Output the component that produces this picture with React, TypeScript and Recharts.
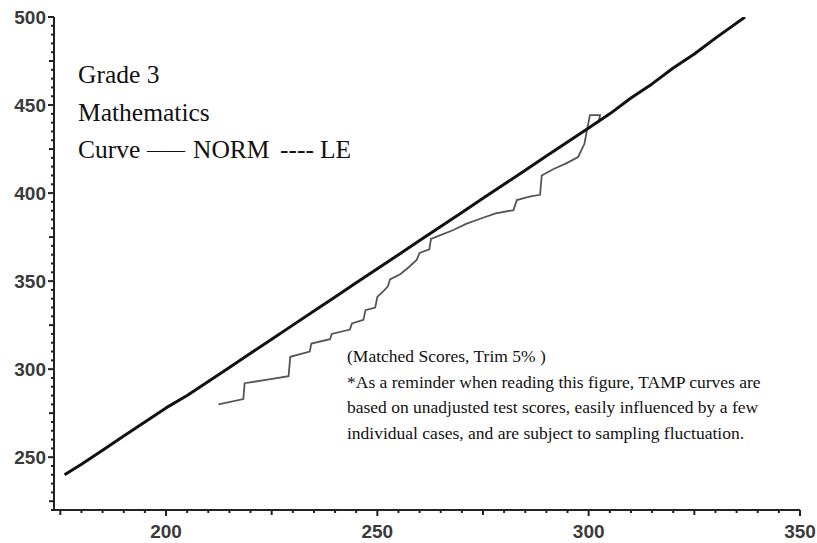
import { LineChart, Line, XAxis, YAxis } from "recharts";

// ── NORM curve (solid, heavy) ───────────────────────────────────────
const normX = [
  176, 180, 185, 190, 195, 200, 205, 210, 215, 220, 225, 230, 235, 240, 245,
  250, 255, 260, 265, 270, 275, 280, 285, 290, 295, 300, 305, 310, 315, 320,
  325, 330, 337,
];
const normY = [
  240, 246, 254, 262, 270, 278, 285, 293, 301, 309, 317, 325, 333, 341, 349,
  357, 365, 373, 381, 389, 397, 405, 413, 421, 429, 437, 445, 454, 462, 471,
  479, 488, 500,
];

// ── LE curve (stepped, thin grey) ───────────────────────────────────
const leX = [
  212.4, 218.3, 218.6, 224, 229, 229.4, 234, 234.4, 238.8, 239.2, 243.5, 244,
  246.7, 247.2, 249.5, 250, 251.5, 252.5, 253, 255.5, 257.5, 259.3, 260, 262.3,
  262.7, 264.8, 268, 271, 275, 278, 282.2, 283, 286, 288.5, 288.9, 291.6, 294.8,
  297.5, 299, 299.5, 300.3, 302.7, 302.3,
];
const leY = [
  280, 283, 292, 294, 296, 307, 310, 314.5, 317, 320, 322.5, 326, 328, 333.5,
  335, 341, 344.5, 347, 351, 354, 358, 362, 366, 368, 374, 376, 379, 382.5, 386,
  388.5, 390.3, 396, 398, 399, 410, 413.5, 417, 420.5, 428, 434.5, 444.3, 444.3,
  440,
];

// ── Axes ────────────────────────────────────────────────────────────
const xLabels = [200, 250, 300, 350];
const yLabels = [250, 300, 350, 400, 450, 500];
const X_DOMAIN: [number, number] = [173.5, 350];
const Y_DOMAIN: [number, number] = [220, 500];
const MINOR_STEP = 5;

const header = ["Grade 3", "Mathematics"];
const note = [
  "(Matched Scores, Trim 5% )",
  "*As a reminder when reading this figure, TAMP curves are",
  "based on unadjusted test scores, easily influenced by a few",
  "individual cases, and are subject to sampling fluctuation.",
];

const normData = normX.map((x, i) => ({ x, y: normY[i] }));
const leData = leX.map((x, i) => ({ x, y: leY[i] }));

function minorTicks(lo: number, hi: number) {
  const out: number[] = [];
  for (let v = Math.ceil(lo / MINOR_STEP) * MINOR_STEP; v <= hi; v += MINOR_STEP) out.push(v);
  return out;
}

const AXIS_COLOR = "#222";
const TICK_FONT = "'Liberation Sans', Arial, sans-serif";
const SERIF = "'Liberation Serif', 'Times New Roman', serif";

const tickLen = (v: number) => (v % 50 === 0 ? 6 : v % 25 === 0 ? 5 : 3);

function XTick(props: any) {
  const { x, y, payload } = props;
  const v = payload.value as number;
  return (
    <g>
      <line x1={x} x2={x} y1={y} y2={y + tickLen(v)} stroke={AXIS_COLOR} strokeWidth={2} />
      {xLabels.includes(v) && (
        <text
          x={x}
          y={y + 21}
          textAnchor="middle"
          dominantBaseline="central"
          fontFamily={TICK_FONT}
          fontWeight="bold"
          fontSize={19}
          fill="#3a3a3a"
        >
          {v}
        </text>
      )}
    </g>
  );
}

function YTick(props: any) {
  const { x, y, payload } = props;
  const v = payload.value as number;
  return (
    <g>
      <line x1={x} x2={x - tickLen(v)} y1={y} y2={y} stroke={AXIS_COLOR} strokeWidth={2} />
      {yLabels.includes(v) && (
        <text
          x={x - 8}
          y={y}
          textAnchor="end"
          dominantBaseline="central"
          fontFamily={TICK_FONT}
          fontWeight="bold"
          fontSize={19}
          fill="#3a3a3a"
        >
          {v}
        </text>
      )}
    </g>
  );
}

export default function App() {
  return (
    <div style={{ position: "absolute", left: 0, top: 0, width: 817, height: 543, background: "#fff" }}>
      <LineChart width={817} height={543} margin={{ top: 17, right: 17, bottom: 0, left: 0 }}>
        <XAxis
          dataKey="x"
          type="number"
          domain={X_DOMAIN}
          allowDataOverflow
          ticks={minorTicks(X_DOMAIN[0], X_DOMAIN[1])}
          interval={0}
          height={33}
          tickSize={0}
          tickMargin={0}
          tickLine={false}
          axisLine={{ stroke: AXIS_COLOR, strokeWidth: 2 }}
          tick={<XTick />}
        />
        <YAxis
          dataKey="y"
          type="number"
          domain={Y_DOMAIN}
          allowDataOverflow
          ticks={minorTicks(Y_DOMAIN[0], Y_DOMAIN[1])}
          interval={0}
          width={54}
          tickSize={0}
          tickMargin={0}
          tickLine={false}
          axisLine={{ stroke: AXIS_COLOR, strokeWidth: 2 }}
          tick={<YTick />}
        />
        <Line
          data={leData}
          dataKey="y"
          type="linear"
          stroke="#555"
          strokeWidth={1.8}
          dot={false}
          isAnimationActive={false}
        />
        <Line
          data={normData}
          dataKey="y"
          type="linear"
          stroke="#111"
          strokeWidth={3}
          strokeLinejoin="round"
          dot={false}
          isAnimationActive={false}
        />
      </LineChart>

      {/* captions */}
      <svg
        width={817}
        height={543}
        style={{ position: "absolute", left: 0, top: 0, pointerEvents: "none" }}
      >
        <g fontFamily={SERIF} fontSize={25.5} fill="#111">
          {header.map((t, i) => (
            <text key={t} x={78} y={83 + i * 38}>
              {t}
            </text>
          ))}
          <text x={78} y={158}>Curve</text>
          <text x={147} y={156} fontSize={19}>
            ——
          </text>
          <text x={193} y={158}>NORM</text>
          <text x={280} y={158}>----</text>
          <text x={320} y={158}>LE</text>
        </g>
        <g fontFamily={SERIF} fontSize={17.5} fill="#111">
          {note.map((t, i) => (
            <text key={i} x={347} y={362 + i * 25.6}>
              {t}
            </text>
          ))}
        </g>
      </svg>
    </div>
  );
}
